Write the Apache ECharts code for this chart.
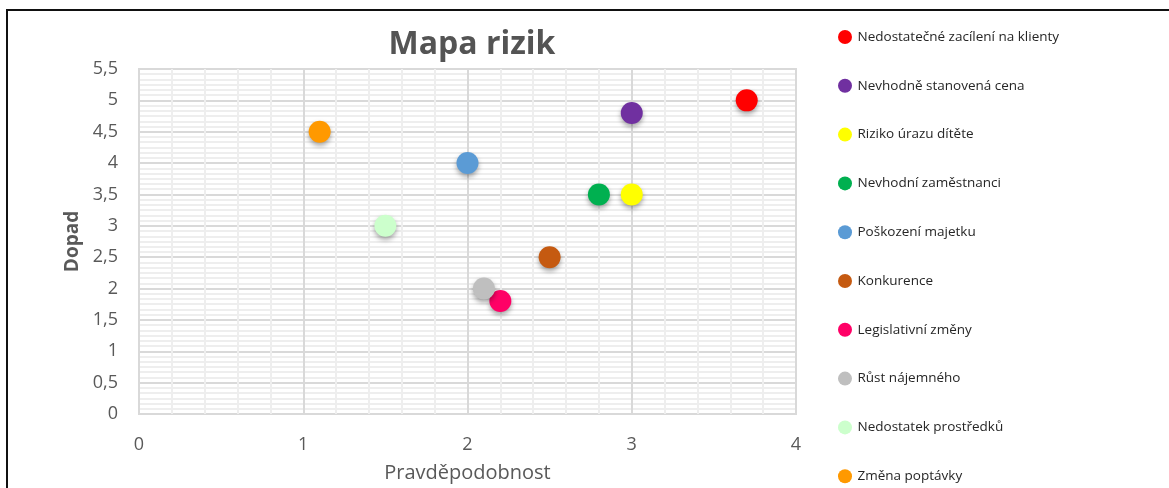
<!DOCTYPE html>
<html>
<head>
<meta charset="utf-8">
<script src="https://cdn.jsdelivr.net/npm/echarts@6/dist/echarts.min.js"></script>
<style>
  html, body { margin: 0; padding: 0; background: #fff; }
  #chart { width: 1169px; height: 488px; }
  #frame { position: absolute; left: 6px; top: 9px; right: 0; bottom: 0;
           border-left: 2px solid #111; border-top: 2px solid #111; pointer-events: none; }
</style>
</head>
<body>
<div id="chart"></div>
<div id="frame"></div>
<script>
// data
let riskNames = [
    "Nedostatečné zacílení na klienty",
    "Nevhodně stanovená cena",
    "Riziko úrazu dítěte",
    "Nevhodní zaměstnanci",
    "Poškození majetku",
    "Konkurence",
    "Legislativní změny",
    "Růst nájemného",
    "Nedostatek prostředků",
    "Změna poptávky"
];
let probability = [3.7, 3.0, 3.0, 2.8, 2.0, 2.5, 2.2, 2.1, 1.5, 1.1];
let impact = [5.0, 4.8, 3.5, 3.5, 4.0, 2.5, 1.8, 2.0, 3.0, 4.5];

let palette = ["#ff0000", "#7030a0", "#ffff00", "#00b050", "#5b9bd5",
    "#c55a11", "#ff0066", "#bfbfbf", "#ccffcc", "#ff9900"];

let txt = "#595959";
let font = "'Open Sans', 'Noto Sans', sans-serif";

let series = riskNames.map((name, i) => ({
    name: name,
    type: 'scatter',
    symbolSize: 22,
    data: [[probability[i], impact[i]]],
    itemStyle: {
        color: palette[i],
        opacity: 1,
        shadowBlur: 5,
        shadowOffsetY: 3,
        shadowColor: 'rgba(0,0,0,0.35)'
    }
}));

let chart = echarts.init(document.getElementById('chart'), null, { renderer: 'canvas' });
chart.setOption({
    backgroundColor: 'transparent',
    animation: false,
    title: {
        text: 'Mapa rizik',
        left: 467,
        textAlign: 'center',
        top: 24,
        textStyle: { color: '#545454', fontSize: 32, fontWeight: 'bold', fontFamily: font }
    },
    legend: {
        orient: 'vertical',
        left: 838,
        top: 30,
        padding: 0,
        height: 470,
        itemWidth: 15,
        itemHeight: 14,
        itemGap: 34.8,
        icon: 'circle',
        textStyle: { color: '#262626', fontSize: 13.5, fontFamily: font }
    },
    grid: {
        left: 139, right: 373, top: 69, bottom: 71,
        show: true, borderColor: '#d9d9d9', borderWidth: 2
    },
    xAxis: {
        type: 'value',
        min: 0, max: 4, interval: 1,
        name: 'Pravděpodobnost',
        nameLocation: 'middle',
        nameGap: 49,
        nameTextStyle: { color: txt, fontSize: 20, fontFamily: font },
        axisLine: { show: false },
        axisTick: { show: false },
        axisLabel: { color: txt, fontSize: 18, fontFamily: font, margin: 22 },
        splitLine: { lineStyle: { color: '#d9d9d9', width: 2 } },
        minorTick: { show: false, splitNumber: 5 },
        minorSplitLine: { show: true, lineStyle: { color: '#eeeeee', width: 2 } }
    },
    yAxis: {
        type: 'value',
        min: 0, max: 5.5, interval: 0.5,
        name: 'Dopad',
        nameLocation: 'middle',
        nameGap: 48,
        nameTextStyle: { color: txt, fontSize: 19, fontWeight: 'bold', fontFamily: font },
        axisLine: { show: false },
        axisTick: { show: false },
        axisLabel: {
            color: txt, fontSize: 18, fontFamily: font, margin: 21,
            formatter: v => String(v).replace('.', ',')
        },
        splitLine: { lineStyle: { color: '#d9d9d9', width: 2 } },
        minorTick: { show: false, splitNumber: 6 },
        minorSplitLine: { show: true, lineStyle: { color: '#eeeeee', width: 2 } }
    },
    series: series
});
</script>
</body>
</html>
